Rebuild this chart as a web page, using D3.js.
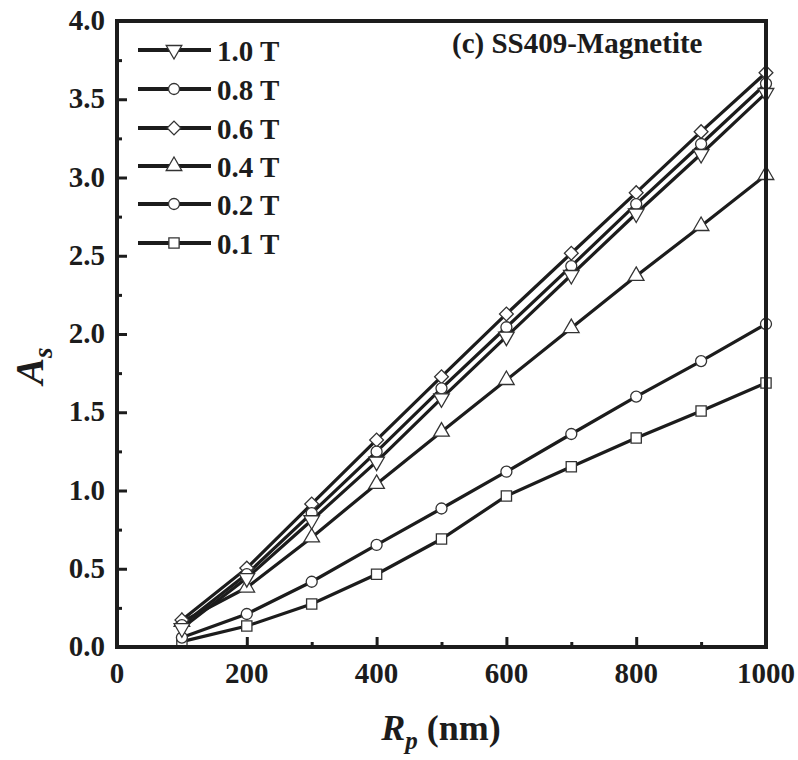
<!DOCTYPE html>
<html><head><meta charset="utf-8">
<script src="https://cdn.jsdelivr.net/npm/d3@7"></script>
<style>body{margin:0;background:#fff}svg{display:block}</style>
</head><body>
<svg id="c" width="798" height="760"></svg>
<script>
const rp = [100,200,300,400,500,600,700,800,900,1000];
const labels = ["1.0 T","0.8 T","0.6 T","0.4 T","0.2 T","0.1 T"];
const markers = ["triDown","circle","diamond","triUp","circle","square"];
const s10 = [0.12,0.44,0.81,1.184,1.589,1.983,2.377,2.77,3.15,3.54];
const s08 = [0.14,0.466,0.855,1.248,1.653,2.043,2.434,2.83,3.214,3.60];
const s06 = [0.172,0.504,0.914,1.323,1.727,2.128,2.516,2.903,3.293,3.67];
const s04 = [0.16,0.38,0.70,1.042,1.376,1.706,2.038,2.371,2.69,3.016];
const s02 = [0.06,0.211,0.417,0.652,0.885,1.12,1.361,1.60,1.827,2.064];
const s01 = [0.034,0.134,0.275,0.465,0.69,0.965,1.152,1.335,1.508,1.687];
const seriesVals = [s10,s08,s06,s04,s02,s01];
const xTicks = [0,200,400,600,800,1000];
const xMinor = [100,300,500,700,900];
const yTicks = [0,0.5,1,1.5,2,2.5,3,3.5,4];
const yMinor = [0.25,0.75,1.25,1.75,2.25,2.75,3.25,3.75];

const svg = d3.select("#c");
const L=117,R=766,T=21,B=647;
const x = d3.scaleLinear().domain([0,1000]).range([L,R]);
const y = d3.scaleLinear().domain([0,4]).range([B,T]);
const font = "'Liberation Serif','Times New Roman',serif";
const ink = "#1c1c1c";

function sym(kind){
  const g = d3.symbol();
  if(kind==="circle") return {d:g.type(d3.symbolCircle).size(95)(), r:0};
  if(kind==="square") return {d:g.type(d3.symbolSquare).size(105)(), r:0};
  if(kind==="diamond") return {d:g.type(d3.symbolSquare).size(95)(), r:45};
  if(kind==="triUp") return {d:g.type(d3.symbolTriangle).size(105)(), r:0};
  if(kind==="triDown") return {d:g.type(d3.symbolTriangle).size(105)(), r:180};
}

// axes (inward ticks)
const xAx = d3.axisBottom(x).tickValues(xTicks).tickSize(-10).tickFormat("");
const xAxMin = d3.axisBottom(x).tickValues(xMinor).tickSize(-5).tickFormat("");
const yAx = d3.axisLeft(y).tickValues(yTicks).tickSize(-10).tickFormat("");
const yAxMin = d3.axisLeft(y).tickValues(yMinor).tickSize(-5).tickFormat("");
[[xAx,`translate(0,${B})`],[xAxMin,`translate(0,${B})`],[yAx,`translate(${L},0)`],[yAxMin,`translate(${L},0)`]].forEach(([a,t])=>{
  const g = svg.append("g").attr("transform",t).call(a);
  g.select(".domain").remove();
  g.selectAll("line").attr("stroke",ink).attr("stroke-width",3);
});

// tick labels
svg.append("g").selectAll("text").data(xTicks).join("text")
  .attr("x",d=>x(d)).attr("y",B+36).attr("text-anchor","middle")
  .attr("font-family",font).attr("font-weight","bold").attr("font-size",29).attr("fill",ink)
  .text(d=>d);
svg.append("g").selectAll("text").data(yTicks).join("text")
  .attr("x",L-12).attr("y",d=>y(d)+9).attr("text-anchor","end")
  .attr("font-family",font).attr("font-weight","bold").attr("font-size",29).attr("fill",ink)
  .text(d=>d3.format(".1f")(d));

// series
const line = d3.line().x((d,i)=>x(rp[i])).y(d=>y(d));
const order = [5,4,3,2,1,0];
order.forEach(k=>{
  svg.append("path").attr("d",line(seriesVals[k])).attr("fill","none")
    .attr("stroke",ink).attr("stroke-width",3.2);
});
order.forEach(k=>{
  const s = sym(markers[k]);
  svg.append("g").selectAll("path").data(seriesVals[k]).join("path")
    .attr("d",s.d)
    .attr("transform",(d,i)=>`translate(${x(rp[i])},${y(d)}) rotate(${s.r})`)
    .attr("fill","#fff").attr("stroke","#333").attr("stroke-width",1.3);
});

// frame
svg.append("rect").attr("x",L).attr("y",T).attr("width",R-L).attr("height",B-T)
  .attr("fill","none").attr("stroke",ink).attr("stroke-width",4);

// legend
const legY = [50,89,128,166,204,243];
labels.forEach((lab,k)=>{
  const g = svg.append("g");
  g.append("line").attr("x1",138).attr("x2",211).attr("y1",legY[k]).attr("y2",legY[k])
    .attr("stroke",ink).attr("stroke-width",4);
  const s = sym(markers[k]);
  g.append("path").attr("d",s.d).attr("transform",`translate(174,${legY[k]}) rotate(${s.r})`)
    .attr("fill","#fff").attr("stroke","#333").attr("stroke-width",1.3);
  g.append("text").attr("x",217).attr("y",legY[k]+11)
    .attr("font-family",font).attr("font-weight","bold").attr("font-size",29).attr("fill",ink)
    .text(lab);
});

// title
svg.append("text").attr("x",452).attr("y",53)
  .attr("font-family",font).attr("font-weight","bold").attr("font-size",29).attr("fill",ink)
  .text("(c) SS409-Magnetite");

// x axis title
const xt = svg.append("text").attr("x",441).attr("y",740).attr("text-anchor","middle")
  .attr("font-family",font).attr("font-weight","bold").attr("font-size",36).attr("fill",ink);
xt.append("tspan").attr("font-style","italic").text("R");
xt.append("tspan").attr("font-style","italic").attr("font-size",25).attr("dy",9).text("p");
xt.append("tspan").attr("dy",-9).text(" (nm)");

// y axis title
const yt = svg.append("text").attr("transform","translate(43,366) rotate(-90)").attr("text-anchor","middle")
  .attr("font-family",font).attr("font-weight","bold").attr("font-size",40).attr("fill",ink);
yt.append("tspan").attr("font-style","italic").text("A");
yt.append("tspan").attr("font-style","italic").attr("font-size",27).attr("dy",9).text("s");
</script>
</body></html>
